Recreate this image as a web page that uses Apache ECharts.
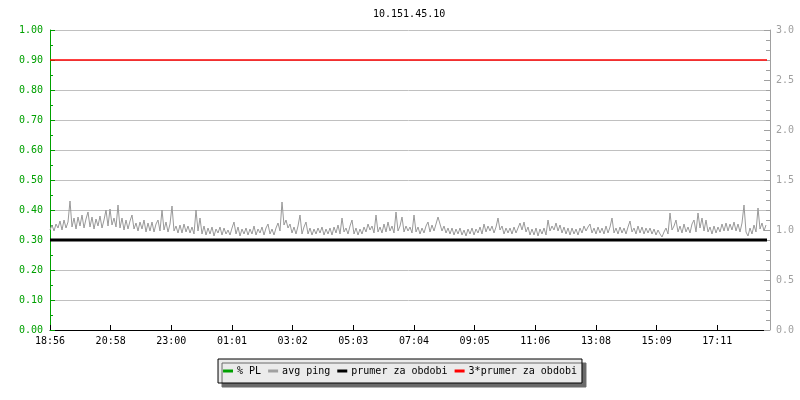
<!DOCTYPE html>
<html>
<head>
<meta charset="utf-8">
<script src="https://cdn.jsdelivr.net/npm/echarts@6/dist/echarts.min.js"></script>
<style>html,body{margin:0;padding:0;background:#fff}#c{width:800px;height:400px}</style>
</head>
<body>
<div id="c"></div>
<script>
// ---- data ----
const titleText = '10.151.45.10';
const tickLabels = ['18:56','20:58','23:00','01:01','03:02','05:03','07:04','09:05','11:06','13:08','15:09','17:11'];
const tickIntervalMin = 121.333;   // minutes between labelled ticks
const spanMin = 1434;              // minutes shown on the x axis
const sampleStepMin = 4;           // minutes between ping samples
const seriesNames = ['% PL', 'avg ping', 'prumer za obdobi', '3*prumer za obdobi'];
const plValues = [];               // packet loss (none visible)
const pingValues = [
 1.00,1.05,0.99,1.06,1.02,1.09,1.00,1.10,1.02,1.08,
 1.29,1.03,1.12,1.01,1.13,1.04,1.15,1.02,1.11,1.18,
 1.03,1.13,1.01,1.11,1.04,1.14,1.02,1.10,1.20,1.04,
 1.21,1.05,1.12,1.03,1.25,1.02,1.12,1.00,1.10,1.01,
 1.09,1.15,1.01,1.07,0.99,1.08,1.01,1.10,0.98,1.07,
 0.99,1.08,0.98,1.06,1.10,0.99,1.20,1.00,1.08,0.98,
 1.06,1.24,0.99,1.04,0.97,1.05,0.97,1.06,0.98,1.04,
 0.97,1.03,0.96,1.20,0.99,1.12,0.96,1.04,0.95,1.02,
 0.96,1.03,0.94,1.01,0.97,1.03,0.95,1.02,0.96,1.00,
 0.95,1.02,1.08,0.96,1.03,0.94,1.01,0.96,1.02,0.95,
 1.01,0.96,1.04,0.95,1.01,0.97,1.03,0.95,1.02,1.06,
 0.96,1.01,0.95,1.02,1.07,0.99,1.28,1.05,1.10,1.02,
 1.06,0.97,1.03,0.96,1.04,1.15,0.96,1.03,1.08,0.96,
 1.02,0.95,1.01,0.96,1.02,0.97,1.03,0.95,1.01,0.96,
 1.02,0.95,1.03,0.97,1.05,0.96,1.12,0.98,1.02,0.96,
 1.04,1.10,0.96,1.02,0.95,1.01,0.96,1.03,0.98,1.06,
 1.00,1.04,0.97,1.15,0.98,1.03,0.97,1.06,0.98,1.08,
 0.99,1.04,0.97,1.18,0.99,1.04,1.13,0.98,1.04,0.99,
 1.03,0.97,1.15,0.98,1.03,0.96,1.02,0.97,1.04,1.08,
 0.98,1.05,0.99,1.06,1.13,1.15,0.99,1.04,0.97,1.02,
 0.96,1.02,0.95,1.01,0.96,1.02,0.95,1.00,0.94,1.01,
 0.96,1.02,0.95,1.01,0.97,1.03,0.96,1.06,0.98,1.04,
 0.99,1.04,0.97,1.03,1.12,1.00,1.04,0.96,1.02,0.97,
 1.02,0.96,1.03,0.97,1.02,1.07,1.00,1.08,0.98,1.03,
 0.95,1.01,0.95,1.02,0.94,1.01,0.96,1.02,0.95,1.10,
 0.99,1.04,1.00,1.07,0.99,1.05,0.97,1.03,0.96,1.02,
 0.95,1.02,0.96,1.01,0.95,1.02,0.97,1.04,0.99,1.03,
 1.06,0.97,1.02,0.96,1.03,0.97,1.02,0.96,1.04,0.97,
 1.03,1.12,0.97,1.02,0.96,1.03,0.97,1.02,0.96,1.03,
 1.09,0.98,1.02,0.96,1.04,0.97,1.03,0.96,1.02,0.97,
 1.02,0.96,1.01,0.95,1.00,0.96,0.93,0.98,1.02,0.96,
 1.17,1.00,1.04,1.10,0.98,1.04,0.97,1.06,0.98,1.03,
 0.97,1.06,1.10,0.98,1.17,1.02,1.12,0.99,1.10,0.98,
 1.03,0.96,1.04,0.97,1.03,0.98,1.06,0.99,1.07,0.99,
 1.06,1.00,1.08,0.99,1.06,0.98,1.07,1.25,0.98,0.94,
 1.02,0.96,1.05,0.98,1.22,1.01,1.07,0.99,1.05
];
const periodAvg = 0.9;             // prumer za obdobi (right axis)
const periodAvg3 = 2.7;            // 3*prumer za obdobi (right axis)

// ---- chart ----
const mono = 'DejaVu Sans Mono';
const green = '#00a000';
const grey = '#a0a0a0';
const pingData = pingValues.map((v, i) => [i * sampleStepMin, v]);
const chart = echarts.init(document.getElementById('c'), null, {renderer: 'canvas'});
chart.setOption({
  animation: false,
  backgroundColor: '#ffffff',
  textStyle: {fontFamily: mono},
  title: {
    text: titleText, left: 373, top: 9, padding: 0,
    textStyle: {fontFamily: mono, fontSize: 10, fontWeight: 'normal', color: '#000'}
  },
  grid: {left: 50, right: 33, top: 30, bottom: 70},
  legend: {
    data: seriesNames,
    left: 'center', top: 359,
    padding: [7, 5, 7, 5],
    itemGap: 7, itemWidth: 10, itemHeight: 3, icon: 'rect',
    backgroundColor: '#ebebeb', borderColor: '#000', borderWidth: 1,
    shadowColor: '#6a6a6a', shadowBlur: 0, shadowOffsetX: 4, shadowOffsetY: 4,
    textStyle: {fontFamily: mono, fontSize: 10, color: '#000', padding: [0, 0, 0, -1]}
  },
  xAxis: {
    type: 'value', min: 0, max: spanMin, interval: tickIntervalMin,
    axisLine: {lineStyle: {color: '#000', width: 1}},
    axisTick: {inside: true, length: 5, lineStyle: {color: '#000'}},
    axisLabel: {
      fontFamily: mono, fontSize: 10, color: '#000', margin: 6,
      showMaxLabel: false,
      formatter: v => tickLabels[Math.round(v / tickIntervalMin)] || ''
    },
    splitLine: {show: false}
  },
  yAxis: [{
    type: 'value', min: 0, max: 1, interval: 0.1, position: 'left',
    axisLine: {show: true, lineStyle: {color: green, width: 1}},
    axisTick: {show: true, inside: true, length: 5, lineStyle: {color: green}},
    minorTick: {show: true, splitNumber: 2, length: 3, lineStyle: {color: green}},
    axisLabel: {fontFamily: mono, fontSize: 10, color: green, margin: 7, formatter: v => v.toFixed(2)},
    splitLine: {show: true, lineStyle: {color: '#c0c0c0', width: 1}}
  }, {
    type: 'value', min: 0, max: 3, interval: 0.5, position: 'right', offset: 3,
    axisLine: {show: true, lineStyle: {color: grey, width: 1}},
    axisTick: {show: true, inside: true, length: 6, lineStyle: {color: grey}},
    minorTick: {show: true, splitNumber: 5, length: 4, lineStyle: {color: grey}},
    axisLabel: {fontFamily: mono, fontSize: 10, color: grey, margin: 6, formatter: v => v.toFixed(1)},
    splitLine: {show: false}
  }],
  series: [{
    name: seriesNames[0], type: 'line', yAxisIndex: 0, showSymbol: false,
    itemStyle: {color: green}, lineStyle: {color: green, width: 1},
    data: plValues
  }, {
    name: seriesNames[1], type: 'line', yAxisIndex: 1, showSymbol: false,
    itemStyle: {color: grey}, lineStyle: {color: '#999999', width: 1},
    data: pingData
  }, {
    name: seriesNames[2], type: 'line', yAxisIndex: 1, showSymbol: false,
    itemStyle: {color: '#000'}, lineStyle: {color: '#000', width: 3},
    data: [[0, periodAvg], [spanMin, periodAvg]]
  }, {
    name: seriesNames[3], type: 'line', yAxisIndex: 1, showSymbol: false,
    itemStyle: {color: '#ff0000'}, lineStyle: {color: '#ff0000', width: 1.5},
    data: [[0, periodAvg3], [spanMin, periodAvg3]]
  }]
});
</script>
</body>
</html>
